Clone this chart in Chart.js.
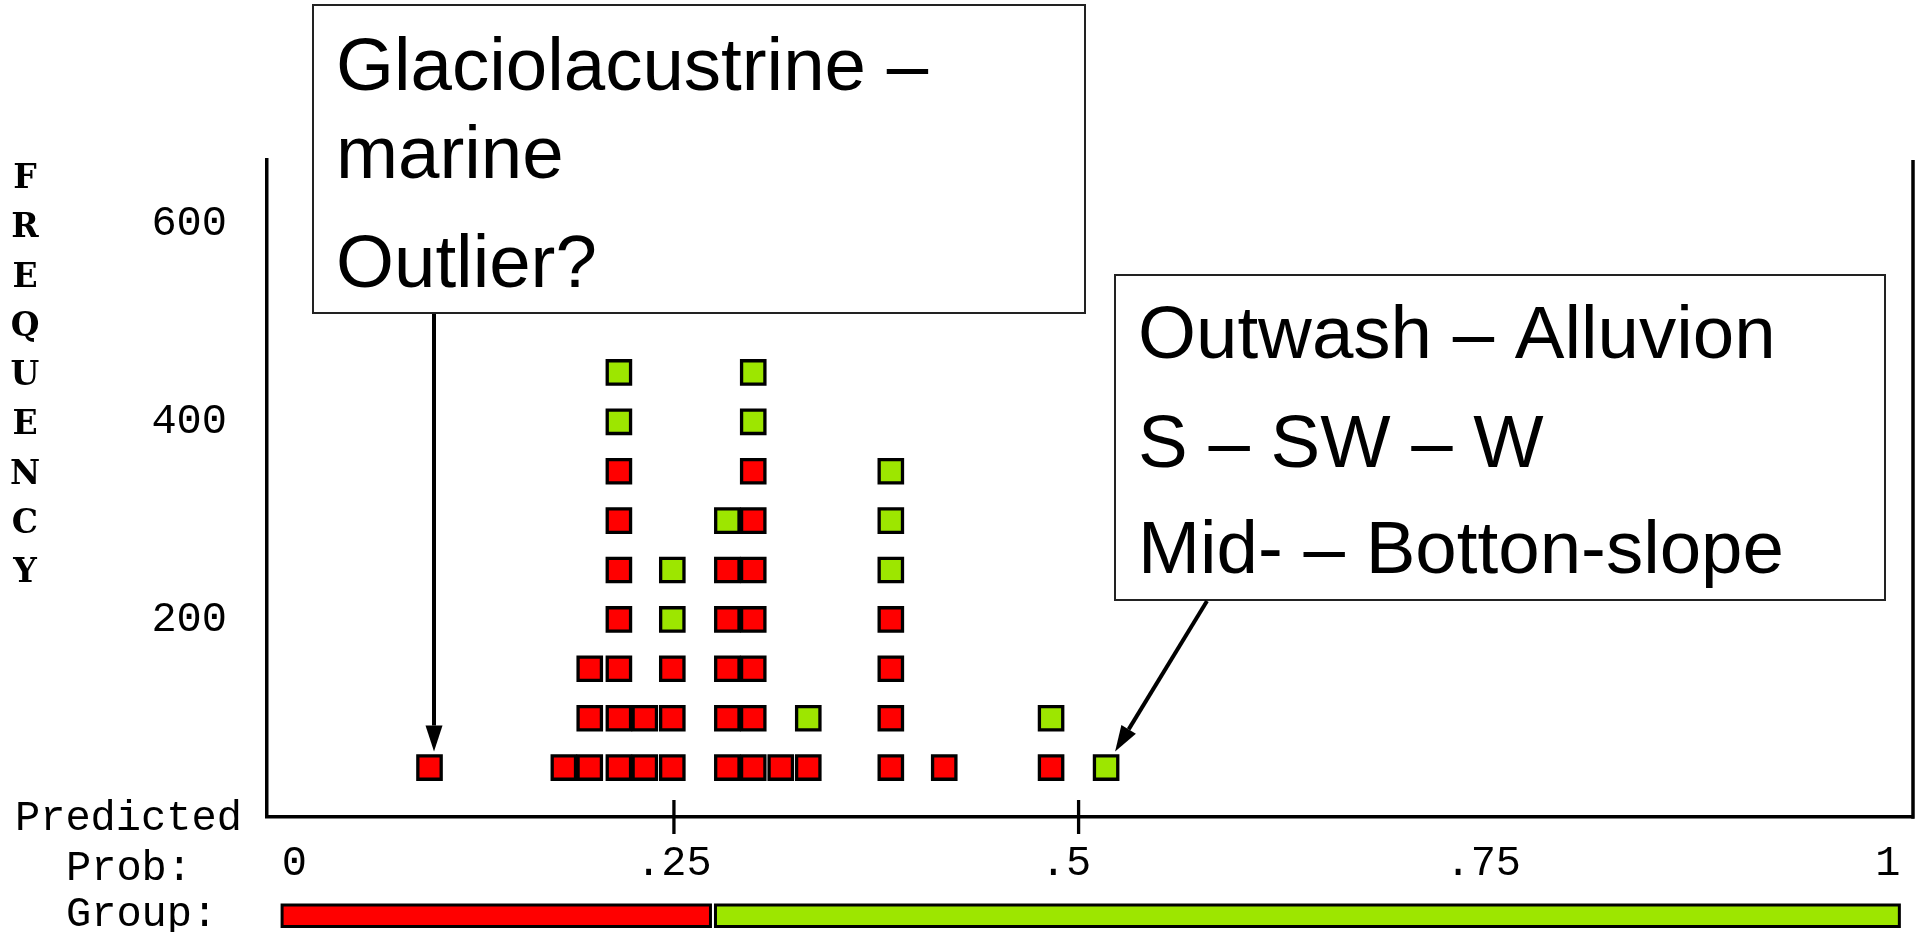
<!DOCTYPE html>
<html>
<head>
<meta charset="utf-8">
<title>Classification plot</title>
<script src="https://cdn.jsdelivr.net/npm/chart.js@4.4.1/dist/chart.umd.min.js"></script>
<style>
  html, body { margin: 0; padding: 0; background: #fff; }
  canvas { display: block; }
</style>
</head>
<body>
<canvas id="plot" width="1925" height="932"></canvas>
<script>
// column centres on the predicted probability axis
const probBins = [0.099, 0.182, 0.198, 0.216, 0.232, 0.249, 0.283, 0.299, 0.316, 0.333, 0.384, 0.417, 0.483, 0.517];
// symbols stacked in each column (red first, green on top)
const redSymbols = [1, 1, 3, 7, 2, 3, 5, 7, 1, 1, 4, 1, 1, 0];
const greenSymbols = [0, 0, 0, 2, 0, 2, 1, 2, 0, 1, 3, 0, 1, 1];
const casesPerSymbol = 50;

const yTicks = [200, 400, 600];
const xTicks = [0, 0.25, 0.5, 0.75, 1];
const xTickLabels = ["0", ".25", ".5", ".75", "1"];
const xMarkedTicks = [0.25, 0.5];

// predicted group strip: cut points along the probability axis
const groupEdges = [0.007, 0.2735, 1.008];

const freqLetters = ["F", "R", "E", "Q", "U", "E", "N", "C", "Y"];

const RED = "#ff0000";
const GREEN = "#9de600";
const MONO = "'Liberation Mono', 'DejaVu Sans Mono', monospace";
const SANS = "'Liberation Sans', Arial, sans-serif";

const redPts = [];
const greenPts = [];
probBins.forEach((p, i) => {
  for (let k = 1; k <= redSymbols[i]; k++) redPts.push({ x: p, y: k * casesPerSymbol });
  for (let k = 1; k <= greenSymbols[i]; k++) greenPts.push({ x: p, y: (redSymbols[i] + k) * casesPerSymbol });
});

function arrow(ctx, x0, y0, x1, y1) {
  const ang = Math.atan2(y1 - y0, x1 - x0);
  const len = 26, half = 8.5;
  const bx = x1 - Math.cos(ang) * len, by = y1 - Math.sin(ang) * len;
  ctx.lineWidth = 4;
  ctx.beginPath();
  ctx.moveTo(x0, y0);
  ctx.lineTo(bx, by);
  ctx.stroke();
  ctx.beginPath();
  ctx.moveTo(x1, y1);
  ctx.lineTo(bx + Math.sin(ang) * half, by - Math.cos(ang) * half);
  ctx.lineTo(bx - Math.sin(ang) * half, by + Math.cos(ang) * half);
  ctx.closePath();
  ctx.fill();
}

function noteBox(ctx, x, y, w, h, lines, textX) {
  ctx.fillStyle = "#fff";
  ctx.fillRect(x, y, w, h);
  ctx.strokeStyle = "#222";
  ctx.lineWidth = 2;
  ctx.strokeRect(x, y, w, h);
  ctx.fillStyle = "#000";
  ctx.font = "74.5px " + SANS;
  ctx.textAlign = "left";
  ctx.textBaseline = "alphabetic";
  lines.forEach(([t, base]) => ctx.fillText(t, textX, base));
}

const decorations = {
  id: "decorations",
  afterDraw(chart) {
    const { ctx, chartArea: a, scales: { x, y } } = chart;
    ctx.save();
    ctx.strokeStyle = "#000";
    ctx.fillStyle = "#000";

    // right side of the frame
    ctx.lineWidth = 3.5;
    ctx.beginPath();
    ctx.moveTo(a.right, a.top);
    ctx.lineTo(a.right, a.bottom + 1.75);
    ctx.stroke();

    // tick marks crossing the x axis
    ctx.lineWidth = 3.3;
    xMarkedTicks.forEach(v => {
      const px = x.getPixelForValue(v);
      ctx.beginPath();
      ctx.moveTo(px, a.bottom - 17);
      ctx.lineTo(px, a.bottom + 17);
      ctx.stroke();
    });

    // predicted group strip
    [RED, GREEN].forEach((c, i) => {
      const x0 = x.getPixelForValue(groupEdges[i]) + (i ? 2 : 0);
      const x1 = x.getPixelForValue(groupEdges[i + 1]);
      ctx.fillStyle = c;
      ctx.fillRect(x0 + 1.5, 905, x1 - x0 - 3, 21.5);
      ctx.lineWidth = 3;
      ctx.strokeRect(x0 + 1.5, 905, x1 - x0 - 3, 21.5);
    });

    // left-hand labels
    ctx.fillStyle = "#000";
    ctx.font = "bold 33px 'DejaVu Serif', serif";
    ctx.textAlign = "center";
    ctx.textBaseline = "alphabetic";
    freqLetters.forEach((l, i) => ctx.fillText(l, 25, 188 + i * 49.25));

    ctx.font = "42px " + MONO;
    ctx.textAlign = "left";
    ctx.fillText("Predicted", 15, 830);
    ctx.fillText("Prob:", 66, 880);
    ctx.fillText("Group:", 66, 926);

    // notes and arrows
    noteBox(ctx, 313, 5, 772, 308,
      [["Glaciolacustrine \u2013", 90], ["marine", 178], ["Outlier?", 287]], 336);
    noteBox(ctx, 1115, 275, 770, 325,
      [["Outwash \u2013 Alluvion", 358], ["S \u2013 SW \u2013 W", 467], ["Mid- \u2013 Botton-slope", 573]], 1138);

    ctx.strokeStyle = "#000";
    ctx.fillStyle = "#000";
    arrow(ctx, 434, 314, x.getPixelForValue(probBins[0]) + 4.5, y.getPixelForValue(casesPerSymbol) - 16);
    arrow(ctx, 1207, 601, x.getPixelForValue(probBins[13]) + 9, y.getPixelForValue(casesPerSymbol) - 16);
    ctx.restore();
  }
};

const symbolStyle = {
  pointStyle: "rect",
  pointRadius: 16.5,
  pointHoverRadius: 16.5,
  borderColor: "#000",
  borderWidth: 3.3
};

new Chart(document.getElementById("plot"), {
  type: "scatter",
  data: {
    datasets: [
      { label: "Group 0", data: redPts, backgroundColor: RED, ...symbolStyle },
      { label: "Group 1", data: greenPts, backgroundColor: GREEN, ...symbolStyle }
    ]
  },
  options: {
    responsive: false,
    animation: false,
    devicePixelRatio: 1,
    events: [],
    layout: { autoPadding: false, padding: { top: 160, right: 12, left: 0, bottom: 0 } },
    plugins: { legend: { display: false }, tooltip: { enabled: false } },
    scales: {
      x: {
        type: "linear",
        min: -0.0014,
        max: 1.0155,
        afterBuildTicks: s => { s.ticks = xTicks.map(v => ({ value: v })); },
        afterFit: s => { s.height = 115; s.paddingLeft = 0; s.paddingRight = 0; },
        grid: { display: false, drawTicks: false },
        border: { display: true, color: "#000", width: 3.5 },
        ticks: {
          font: { family: MONO, size: 42 },
          color: "#000",
          padding: 22,
          maxRotation: 0,
          autoSkip: false,
          // the source plot nudges "0" right and ".5" left of their ticks
          callback: (v, i) => (i === 0 ? "  " : "") + xTickLabels[i] + (i === 2 ? " " : "")
        }
      },
      y: {
        type: "linear",
        min: 0,
        max: 665,
        afterBuildTicks: s => { s.ticks = yTicks.map(v => ({ value: v })); },
        afterFit: s => { s.width = 267; s.paddingTop = 0; s.paddingBottom = 0; },
        grid: { display: false, drawTicks: false },
        border: { display: true, color: "#000", width: 3.5 },
        ticks: { font: { family: MONO, size: 42 }, color: "#000", padding: 40 }
      }
    }
  },
  plugins: [decorations]
});
</script>
</body>
</html>
